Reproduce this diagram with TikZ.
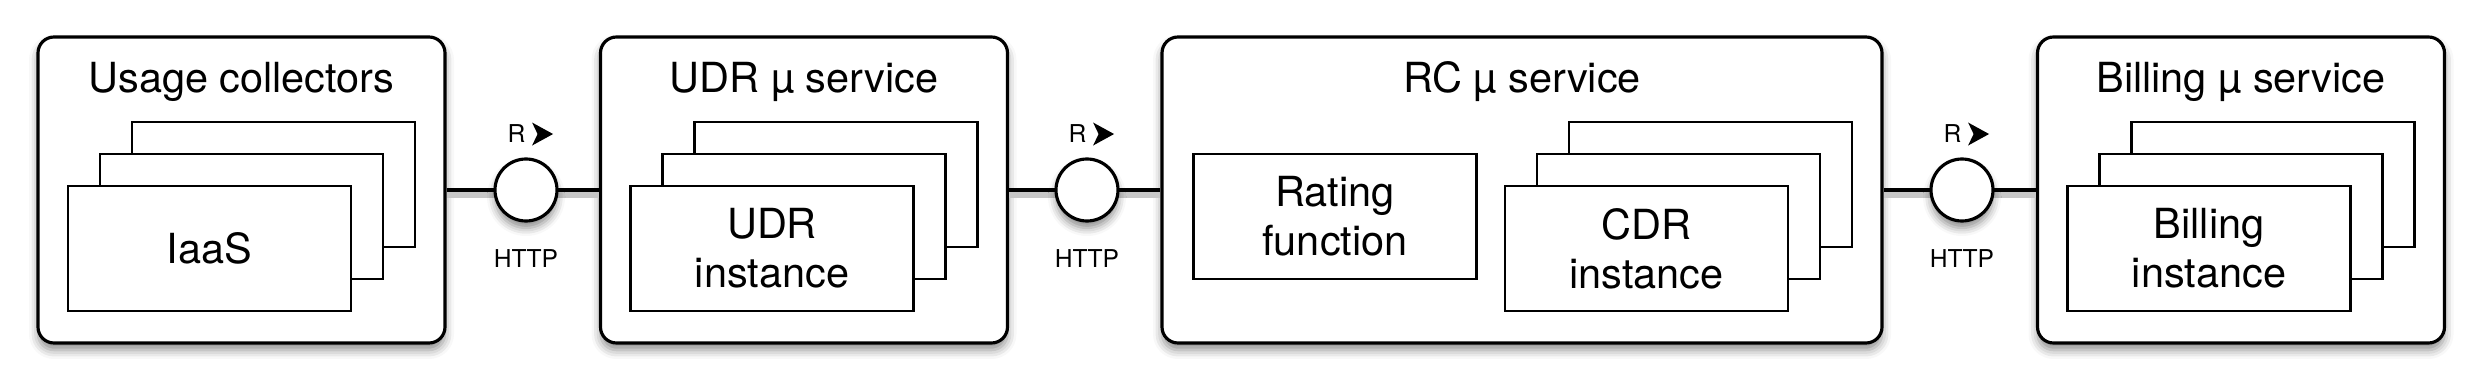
\documentclass[tikz,border=0pt]{standalone}
\usepackage{fontspec}
\setmainfont{TeX Gyre Heros}
\usetikzlibrary{positioning,calc,shadows.blur}
\tikzset{
  every node/.style={font=\fontsize{11.8}{14}\selectfont,text=black},
  svc/.style={draw,line width=0.9pt,rounded corners=1.6mm,fill=white,minimum height=30.6mm,
    blur shadow={shadow xshift=0mm,shadow yshift=-0.7mm,shadow blur radius=0.9mm,shadow opacity=45}},
  svctitle/.style={anchor=base,inner sep=0pt},
  inst/.style={draw,line width=0.8pt,fill=white,minimum width=28.3mm,minimum height=12.5mm,align=center,inner sep=0pt},
  iface/.style={circle,draw,line width=0.9pt,fill=white,minimum size=6.2mm,inner sep=0pt,
    blur shadow={shadow xshift=0mm,shadow yshift=-0.7mm,shadow blur radius=0.8mm,shadow opacity=45}},
  lbl/.style={font=\fontsize{7}{8}\selectfont,inner sep=0pt},
  wire/.style={line width=0.9pt,draw=black,
    preaction={draw=black!22,line width=2.4pt,transform canvas={yshift=-1.1pt}}}
}
\begin{document}
\begin{tikzpicture}[x=1cm,y=1cm]
  \useasboundingbox (0,0) rectangle (24.82,3.81);

  % services
  \node[svc,minimum width=40.7mm] (usage) at (2.415,1.91) {};
  \node[svc,minimum width=40.7mm] (udr) at (8.04,1.91) {};
  \node[svc,minimum width=72.0mm] (rc) at (15.22,1.91) {};
  \node[svc,minimum width=40.7mm] (billing) at (22.41,1.91) {};

  \node[svctitle] (usagetitle) at (2.415,2.88) {Usage collectors};
  \node[svctitle] (udrtitle) at (8.04,2.88) {UDR µ service};
  \node[svctitle] (rctitle) at (15.22,2.88) {RC µ service};
  \node[svctitle] (billingtitle) at (22.41,2.88) {Billing µ service};

  % instance stacks
  \node[inst] (usageback) at (2.735,1.965) {};
  \node[inst] (usagemid) at (2.415,1.645) {};
  \node[inst] (usagefront) at (2.095,1.325) {IaaS};

  \node[inst] (udrback) at (8.36,1.965) {};
  \node[inst] (udrmid) at (8.04,1.645) {};
  \node[inst] (udrfront) at (7.72,1.325) {UDR\\instance};

  \node[inst] (rating) at (13.35,1.645) {Rating\\function};
  \node[inst] (cdrback) at (17.105,1.965) {};
  \node[inst] (cdrmid) at (16.785,1.645) {};
  \node[inst] (cdrfront) at (16.465,1.325) {CDR\\instance};

  \node[inst] (billback) at (22.73,1.965) {};
  \node[inst] (billmid) at (22.41,1.645) {};
  \node[inst] (billfront) at (22.09,1.325) {Billing\\instance};

  % interfaces
  \draw[wire] (usage) -- (5.26,1.91) coordinate (w1);
  \draw[wire] (w1) -- (udr);
  \draw[wire] (udr) -- (10.87,1.91) coordinate (w2);
  \draw[wire] (w2) -- (rc);
  \draw[wire] (rc) -- (19.62,1.91) coordinate (w3);
  \draw[wire] (w3) -- (billing);

  \node[iface] (if1) at (w1) {};
  \node[iface] (if2) at (w2) {};
  \node[iface] (if3) at (w3) {};

  \node[lbl,below=2.6mm of if1] (http1) {HTTP};
  \node[lbl,below=2.6mm of if2] (http2) {HTTP};
  \node[lbl,below=2.6mm of if3] (http3) {HTTP};

  \node[lbl,anchor=base] (r1) at ($(if1)+(-0.095,0.47)$) {R};
  \node[lbl,anchor=base] (r2) at ($(if2)+(-0.095,0.47)$) {R};
  \node[lbl,anchor=base] (r3) at ($(if3)+(-0.095,0.47)$) {R};
  \fill ($(r1.east)+(0.06,0)$) ++(0,0.115) -- ++(0.21,-0.115) -- ++(-0.21,-0.115) -- ++(0.055,0.115) -- cycle;
  \fill ($(r2.east)+(0.06,0)$) ++(0,0.115) -- ++(0.21,-0.115) -- ++(-0.21,-0.115) -- ++(0.055,0.115) -- cycle;
  \fill ($(r3.east)+(0.06,0)$) ++(0,0.115) -- ++(0.21,-0.115) -- ++(-0.21,-0.115) -- ++(0.055,0.115) -- cycle;
\end{tikzpicture}
\end{document}
